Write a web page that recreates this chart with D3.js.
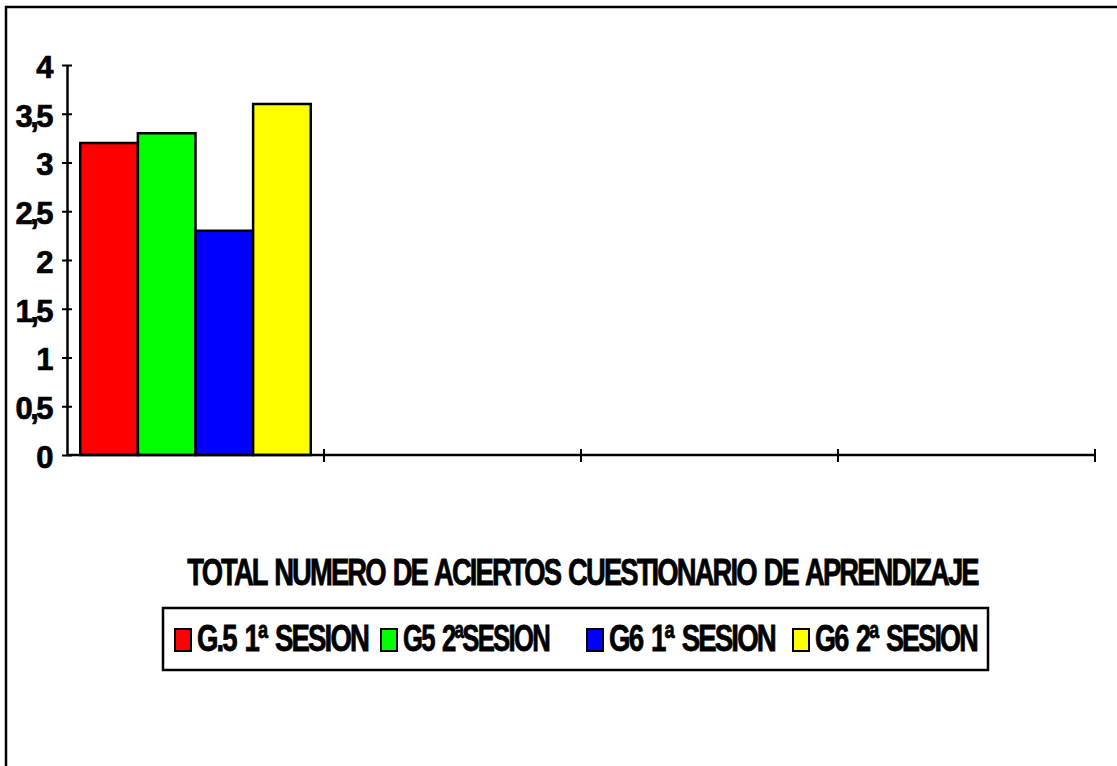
<!DOCTYPE html>
<html>
<head>
<meta charset="utf-8">
<script src="https://cdn.jsdelivr.net/npm/d3@7"></script>
<style>
  html, body { margin: 0; padding: 0; background: #ffffff; }
  svg { display: block; }
  text { font-family: "Liberation Sans", Arial, sans-serif; font-weight: bold; fill: #000; }
</style>
</head>
<body>
<svg id="chart" width="1117" height="766"></svg>
<script>
// Four category slots on the x axis; only the first one carries data.
const categories = ["", "", "", ""];
// Series (one bar per session group)
const seriesNames = ["G.5 1ª SESION", "G5 2ªSESION", "G6 1ª SESION", "G6 2ª SESION"];
const seriesColors = ["#ff0000", "#00ff00", "#0000ff", "#ffff00"];
const g5Sesion1 = [3.2, null, null, null];
const g5Sesion2 = [3.3, null, null, null];
const g6Sesion1 = [2.3, null, null, null];
const g6Sesion2 = [3.6, null, null, null];
const seriesValues = [g5Sesion1, g5Sesion2, g6Sesion1, g6Sesion2];
// Value axis
const yTicks = [0, 0.5, 1, 1.5, 2, 2.5, 3, 3.5, 4];
const yTickLabels = ["0", "0,5", "1", "1,5", "2", "2,5", "3", "3,5", "4"];
const axisTitle = "TOTAL NUMERO DE ACIERTOS CUESTIONARIO DE APRENDIZAJE";

const svg = d3.select("#chart");

// Squeeze a text horizontally so it spans the given width.
function condense(sel, width) {
  sel.each(function () {
    const w = this.getComputedTextLength();
    const k = w > 0 ? width / w : 1;
    const t = d3.select(this);
    t.attr("transform", `${t.attr("data-base") || ""} scale(${k},1)`);
  });
}

// Outer chart frame (runs off the right and bottom edges)
svg.append("rect")
  .attr("x", 6).attr("y", 7)
  .attr("width", 1300).attr("height", 1000)
  .attr("fill", "none").attr("stroke", "#000").attr("stroke-width", 2.5);

const plot = { left: 67, right: 1095, top: 65, bottom: 455 };

const y = d3.scaleLinear().domain([0, 4]).range([plot.bottom, plot.top]);
const x0 = d3.scaleBand()
  .domain(d3.range(categories.length))
  .range([plot.left, plot.right])
  .padding(0);
const x1 = d3.scaleBand()
  .domain(d3.range(seriesNames.length))
  .range([0, x0.bandwidth()])
  .paddingInner(0)
  .paddingOuter(0.23);

// Bars
const barData = [];
seriesValues.forEach((vals, s) => {
  vals.forEach((v, c) => {
    if (v != null) barData.push({ s, c, v });
  });
});
svg.append("g").selectAll("rect")
  .data(barData)
  .join("rect")
  .attr("x", d => x0(d.c) + x1(d.s))
  .attr("y", d => y(d.v))
  .attr("width", x1.bandwidth())
  .attr("height", d => y(0) - y(d.v))
  .attr("fill", d => seriesColors[d.s])
  .attr("stroke", "#000")
  .attr("stroke-width", 2.5);

// Y axis with crossing ticks
const yAxis = svg.append("g")
  .attr("transform", `translate(${plot.left},0)`)
  .call(d3.axisLeft(y)
    .tickValues(yTicks)
    .tickFormat((d, i) => yTickLabels[i])
    .tickSizeOuter(0)
    .tickPadding(10));
yAxis.select(".domain").attr("stroke", "#000").attr("stroke-width", 2.5);
yAxis.selectAll(".tick line").attr("x1", -5).attr("x2", 5)
  .attr("stroke", "#000").attr("stroke-width", 2);
yAxis.selectAll(".tick text")
  .style("font-family", "'Liberation Sans', Arial, sans-serif")
  .style("font-weight", "bold")
  .style("font-size", "31px")
  .style("letter-spacing", "-2.5px")
  .attr("dy", "0.4em")
  .attr("stroke", "#000").attr("stroke-width", 0.7)
  .attr("fill", "#000");

// X axis: line with crossing ticks at category boundaries
const xAxis = svg.append("g").attr("transform", `translate(0,${plot.bottom})`);
xAxis.append("line")
  .attr("x1", plot.left).attr("x2", plot.right)
  .attr("stroke", "#000").attr("stroke-width", 2.5);
const boundaries = d3.range(categories.length + 1)
  .map(i => i < categories.length ? x0(i) : x0(categories.length - 1) + x0.bandwidth());
xAxis.selectAll(".xtick")
  .data(boundaries.slice(1))
  .join("line")
  .attr("class", "xtick")
  .attr("x1", d => d).attr("x2", d => d)
  .attr("y1", -6).attr("y2", 7)
  .attr("stroke", "#000").attr("stroke-width", 2);
xAxis.selectAll(".xlabel")
  .data(categories)
  .join("text")
  .attr("class", "xlabel")
  .attr("x", (d, i) => x0(i) + x0.bandwidth() / 2)
  .attr("y", 30)
  .attr("text-anchor", "middle")
  .style("font-size", "24px")
  .text(d => d);

// Axis title
svg.append("text")
  .attr("data-base", "translate(582.5,585)")
  .attr("text-anchor", "middle")
  .attr("stroke", "#000").attr("stroke-width", 0.8)
  .style("font-size", "37px")
  .style("letter-spacing", "-2.5px")
  .style("word-spacing", "3px")
  .text(axisTitle)
  .call(condense, 791);

// Legend
const legend = svg.append("g").attr("transform", "translate(163,608)");
legend.append("rect")
  .attr("width", 825).attr("height", 62)
  .attr("fill", "#fff").attr("stroke", "#000").attr("stroke-width", 2.5);
const labelWidths = [171, 146, 166, 162];
const items = legend.selectAll(".item")
  .data(seriesNames)
  .join("g")
  .attr("class", "item")
  .attr("transform", (d, i) => `translate(${12 + i * 206},0)`);
items.append("rect")
  .attr("x", 0).attr("y", 21)
  .attr("width", 16).attr("height", 22)
  .attr("fill", (d, i) => seriesColors[i])
  .attr("stroke", "#000").attr("stroke-width", 2);
items.append("text")
  .attr("data-base", "translate(22,42.5)")
  .attr("stroke", "#000").attr("stroke-width", 0.8)
  .style("font-size", "37px")
  .style("letter-spacing", "-2.5px")
  .style("word-spacing", "4px")
  .text(d => d)
  .each(function (d, i) { d3.select(this).call(condense, labelWidths[i]); });
</script>
</body>
</html>
